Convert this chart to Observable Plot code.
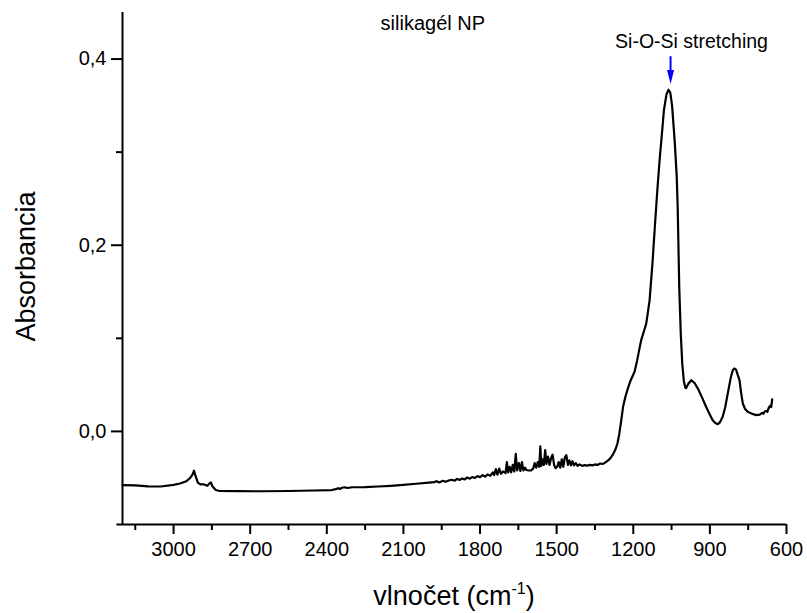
<!DOCTYPE html>
<html>
<head>
<meta charset="utf-8">
<script src="https://cdn.jsdelivr.net/npm/d3@7"></script>
<script src="https://cdn.jsdelivr.net/npm/@observablehq/plot@0.6"></script>
<style>
  html, body { margin: 0; padding: 0; background: #fff; }
  #chart svg { display: block; }
</style>
</head>
<body>
<div id="chart"></div>
<script>
// Wavenumber (cm^-1) and absorbance
const wavenumber = [
  3200, 3150, 3100, 3050, 3000, 2975, 2950, 2935, 2925, 2920, 2915, 2905, 2895, 2880, 2868, 2860, 2854, 2848, 2835, 2820,
  2750, 2650, 2550, 2450, 2380, 2365, 2355, 2350, 2340, 2330, 2320, 2300, 2250, 2200, 2150, 2100, 2050, 2000,
  1980, 1970, 1960, 1945, 1935, 1920, 1910, 1900, 1890, 1880, 1870, 1860, 1850, 1840, 1830, 1820, 1810, 1800,
  1790, 1780, 1770, 1760, 1750, 1745, 1738, 1732, 1725, 1718, 1710, 1700, 1695, 1690, 1684, 1678, 1672, 1666,
  1660, 1655, 1648, 1642, 1636, 1630, 1624, 1618, 1610, 1600, 1592, 1586, 1580, 1574, 1568, 1564, 1560, 1555,
  1550, 1545, 1540, 1534, 1528, 1522, 1516, 1510, 1504, 1498, 1492, 1486, 1480, 1474, 1468, 1462, 1456, 1450,
  1444, 1438, 1432, 1425, 1418, 1410, 1400, 1390, 1380, 1370, 1360, 1350, 1340, 1330, 1320, 1310, 1300, 1290,
  1280, 1270, 1262, 1255, 1248, 1240, 1230, 1221, 1210, 1195, 1185, 1175, 1169, 1160, 1149, 1136, 1125, 1115,
  1105, 1095, 1090, 1080, 1070, 1062, 1055, 1048, 1038, 1030, 1026, 1020, 1014, 1008, 1002, 996, 993, 985, 973,
  960, 947, 930, 914, 900, 889, 879, 869, 860, 850, 840, 830, 818, 810, 804, 797, 790, 784, 778, 771,
  762, 752, 735, 719, 705, 695, 690, 687, 680, 675, 670, 667, 662, 660, 656
];
const absorbance = [
  -0.0577, -0.0580, -0.0590, -0.0592, -0.0575, -0.0560, -0.0535, -0.0500, -0.0460, -0.0422, -0.0470, -0.0550, -0.0570, -0.0570, -0.0585, -0.0560, -0.0548, -0.0590, -0.0630, -0.0640,
  -0.0642, -0.0643, -0.0640, -0.0635, -0.0630, -0.0620, -0.0610, -0.0618, -0.0605, -0.0600, -0.0608, -0.0600, -0.0598, -0.0592, -0.0585, -0.0575, -0.0562, -0.0550,
  -0.0545, -0.0535, -0.0548, -0.0530, -0.0540, -0.0525, -0.0520, -0.0530, -0.0510, -0.0522, -0.0505, -0.0515, -0.0495, -0.0508, -0.0490, -0.0500, -0.0480, -0.0492,
  -0.0470, -0.0485, -0.0462, -0.0478, -0.0440, -0.0470, -0.0405, -0.0465, -0.0400, -0.0455, -0.0430, -0.0448, -0.0330, -0.0440, -0.0380, -0.0440, -0.0360, -0.0430,
  -0.0240, -0.0420, -0.0340, -0.0425, -0.0330, -0.0420, -0.0390, -0.0415, -0.0420, -0.0418, -0.0400, -0.0340, -0.0390, -0.0330, -0.0380, -0.0160, -0.0370, -0.0300,
  -0.0360, -0.0200, -0.0350, -0.0270, -0.0360, -0.0290, -0.0250, -0.0360, -0.0395, -0.0380, -0.0330, -0.0390, -0.0300, -0.0380, -0.0280, -0.0255, -0.0360, -0.0310,
  -0.0365, -0.0320, -0.0365, -0.0340, -0.0370, -0.0355, -0.0370, -0.0362, -0.0368, -0.0360, -0.0365, -0.0355, -0.0360, -0.0345, -0.0350, -0.0335, -0.0315, -0.0290,
  -0.0250, -0.0195, -0.0130, -0.0030, 0.0100, 0.0264, 0.0380, 0.0462, 0.0550, 0.0640, 0.0760, 0.0900, 0.0980, 0.1060, 0.1160, 0.1410, 0.1800, 0.2220,
  0.2620, 0.2980, 0.3127, 0.3450, 0.3620, 0.3670, 0.3640, 0.3500, 0.3127, 0.2750, 0.2400, 0.1550, 0.1050, 0.0720, 0.0540, 0.0470, 0.0465, 0.0510, 0.0550,
  0.0520, 0.0460, 0.0360, 0.0260, 0.0180, 0.0120, 0.0090, 0.0078, 0.0100, 0.0157, 0.0260, 0.0408, 0.0580, 0.0660, 0.0676, 0.0660, 0.0600, 0.0550, 0.0420, 0.0300,
  0.0240, 0.0210, 0.0190, 0.0175, 0.0180, 0.0200, 0.0190, 0.0210, 0.0220, 0.0210, 0.0250, 0.0264, 0.0280, 0.0260, 0.0344
];

const xMajorTicks = [3000, 2700, 2400, 2100, 1800, 1500, 1200, 900, 600];
const xMinorTicks = [3150, 2850, 2550, 2250, 1950, 1650, 1350, 1050, 750];
const yMajorTicks = [0.0, 0.2, 0.4];
const yMinorTicks = [0.1, 0.3];

const titleText = ["silikagél NP"];
const titlePos = [1985, 0.4385];
const peakLabel = ["Si-O-Si stretching"];
const peakLabelPos = [972, 0.419];
const arrowX = [1054];
const arrowY = [0.4025, 0.386, 0.3808];
const yLabel = "Absorbancia";

const spectrum = wavenumber.map((w, i) => ({w, a: absorbance[i]}));

const downTriangle = {
  draw(ctx, size) {
    const r = Math.sqrt(size / Math.PI);
    ctx.moveTo(-r * 0.5, -r);
    ctx.lineTo(r * 0.5, -r);
    ctx.lineTo(0, r);
    ctx.closePath();
  }
};

const font = "'Liberation Sans', Arial, sans-serif";

const chart = Plot.plot({
  width: 807,
  height: 613,
  marginLeft: 122,
  marginRight: 21,
  marginTop: 12,
  marginBottom: 89,
  x: {domain: [3200, 600]},
  y: {domain: [-0.1, 0.45]},
  style: {fontFamily: font, background: "white", color: "black"},
  marks: [
    Plot.axisX({ticks: xMajorTicks, tickSize: 10, tickPadding: 7, fontSize: 20, strokeWidth: 2, label: null, tickFormat: d => String(d)}),
    Plot.axisX({ticks: xMinorTicks, tickSize: 6, strokeWidth: 2, label: null, tickFormat: () => ""}),
    Plot.axisY({ticks: yMajorTicks, tickSize: 11, tickPadding: 5, fontSize: 20, strokeWidth: 2, label: null, tickFormat: d => d.toFixed(1).replace(".", ",")}),
    Plot.axisY({ticks: yMinorTicks, tickSize: 6, strokeWidth: 2, label: null, tickFormat: () => ""}),
    Plot.ruleX([3200], {strokeWidth: 2}),
    Plot.ruleY([-0.1], {x1: 3222, x2: 600, strokeWidth: 2}),
    Plot.line(spectrum, {x: "w", y: "a", stroke: "black", strokeWidth: 2.2, strokeLinejoin: "round"}),
    Plot.text(titleText, {x: titlePos[0], y: titlePos[1], text: d => d, fontSize: 20, fill: "black"}),
    Plot.text(peakLabel, {x: peakLabelPos[0], y: peakLabelPos[1], text: d => d, fontSize: 19.5, fill: "black"}),
    Plot.ruleX(arrowX, {y1: arrowY[0], y2: arrowY[1], stroke: "#0000ff", strokeWidth: 2}),
    Plot.dot(arrowX, {x: d => d, y: arrowY[2], symbol: downTriangle, r: 7, fill: "#0000ff", stroke: "none"}),
    Plot.text([yLabel], {frameAnchor: "left", dx: -96, dy: -2, rotate: -90, textAnchor: "middle", text: d => d, fontSize: 27, fill: "black"})
  ]
});

// x-axis label with superscript
const svg = d3.select(chart);
const xl = svg.append("text")
  .attr("x", 454).attr("y", 605)
  .attr("text-anchor", "middle")
  .attr("font-family", font)
  .attr("font-size", 27)
  .attr("fill", "black");
xl.append("tspan").text("vlnočet (cm");
xl.append("tspan").attr("font-size", 16).attr("dy", -11).text("-1");
xl.append("tspan").attr("dy", 11).text(")");

document.getElementById("chart").appendChild(chart);
</script>
</body>
</html>
